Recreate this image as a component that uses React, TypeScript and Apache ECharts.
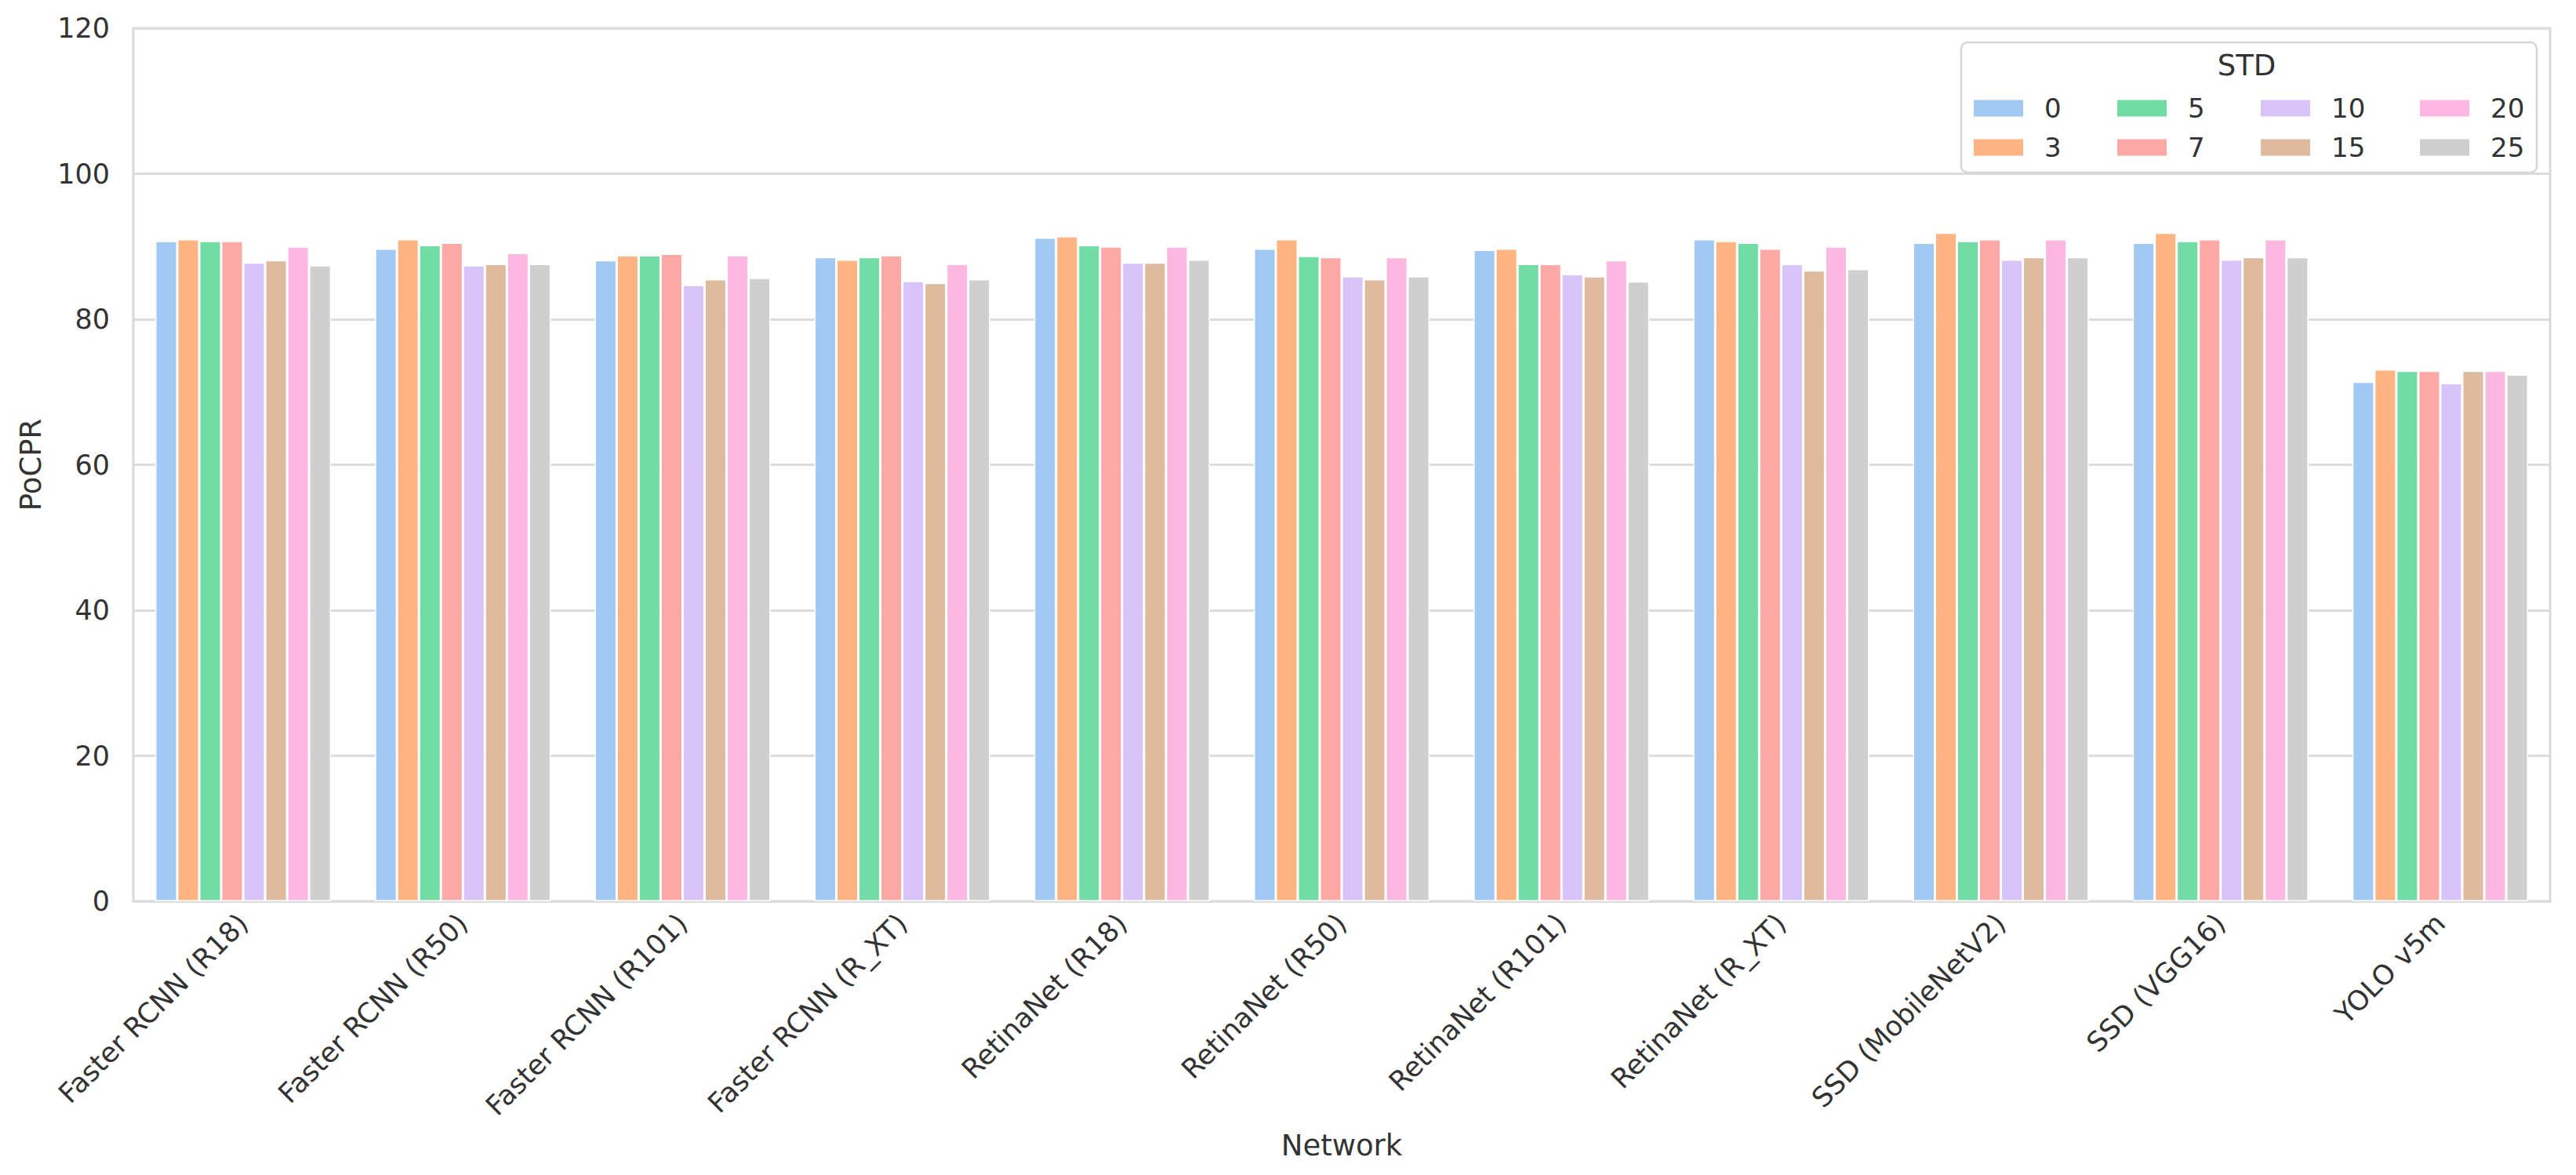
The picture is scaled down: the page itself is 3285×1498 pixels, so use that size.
import React, { useEffect, useRef } from "react";
import * as echarts from "echarts";

const networks = [
  "Faster RCNN (R18)",
  "Faster RCNN (R50)",
  "Faster RCNN (R101)",
  "Faster RCNN (R_XT)",
  "RetinaNet (R18)",
  "RetinaNet (R50)",
  "RetinaNet (R101)",
  "RetinaNet (R_XT)",
  "SSD (MobileNetV2)",
  "SSD (VGG16)",
  "YOLO v5m",
];

const stdLevels = ["0", "3", "5", "7", "10", "15", "20", "25"];

const std0 = [90.75, 89.7, 88.1, 88.55, 91.2, 89.7, 89.55, 91.0, 90.5, 90.5, 71.4];
const std3 = [91.0, 91.0, 88.8, 88.2, 91.4, 91.0, 89.7, 90.75, 91.9, 91.9, 73.1];
const std5 = [90.75, 90.2, 88.8, 88.55, 90.2, 88.7, 87.6, 90.5, 90.75, 90.75, 72.9];
const std7 = [90.75, 90.5, 89.0, 88.8, 90.0, 88.55, 87.6, 89.7, 91.0, 91.0, 72.9];
const std10 = [87.8, 87.4, 84.7, 85.25, 87.8, 85.9, 86.2, 87.6, 88.2, 88.2, 71.2];
const std15 = [88.1, 87.6, 85.5, 85.0, 87.8, 85.5, 85.9, 86.7, 88.55, 88.55, 72.9];
const std20 = [90.0, 89.1, 88.8, 87.6, 90.0, 88.55, 88.1, 90.0, 91.0, 91.0, 72.9];
const std25 = [87.4, 87.6, 85.7, 85.5, 88.2, 85.9, 85.2, 86.9, 88.55, 88.55, 72.4];

const seriesValues = [std0, std3, std5, std7, std10, std15, std20, std25];

const yTicks = { min: 0, max: 120, interval: 20 };

const colors = [
  "#a1c9f4",
  "#ffb482",
  "#72dca6",
  "#ffa9a6",
  "#d8c4f8",
  "#debb9f",
  "#fdb8e1",
  "#cfcfcf",
];

const FONT = "DejaVu Sans";
const TEXT = "#333333";

export default function App() {
  const ref = useRef<HTMLDivElement | null>(null);

  useEffect(() => {
    if (!ref.current) return;
    const chart = echarts.init(ref.current, undefined, { renderer: "svg" });

    const legendCols = [
      { left: 2517, items: [stdLevels[0], stdLevels[1]] },
      { left: 2700, items: [stdLevels[2], stdLevels[3]] },
      { left: 2883, items: [stdLevels[4], stdLevels[5]] },
      { left: 3086, items: [stdLevels[6], stdLevels[7]] },
    ];

    const option: any = {
      animation: false,
      backgroundColor: "#ffffff",
      color: colors,
      textStyle: { fontFamily: FONT },
      grid: {
        left: 170,
        top: 36,
        right: 33,
        bottom: 349,
        show: true,
        borderColor: "#d9d9d9",
        borderWidth: 3,
        backgroundColor: "#ffffff",
      },
      xAxis: {
        type: "category",
        data: networks,
        name: "Network",
        nameLocation: "middle",
        nameGap: 293,
        nameTextStyle: { fontSize: 37, color: TEXT, fontFamily: FONT },
        axisLine: { show: false },
        axisTick: { show: false },
        splitLine: { show: false },
        axisLabel: {
          rotate: 45,
          interval: 0,
          margin: 22,
          fontSize: 35,
          color: TEXT,
          fontFamily: FONT,
        },
      },
      yAxis: {
        type: "value",
        min: yTicks.min,
        max: yTicks.max,
        interval: yTicks.interval,
        name: "PoCPR",
        nameLocation: "middle",
        nameRotate: 90,
        nameGap: 112,
        nameTextStyle: { fontSize: 37, color: TEXT, fontFamily: FONT },
        axisLine: { show: false },
        axisTick: { show: false },
        axisLabel: { fontSize: 35, color: TEXT, margin: 30, fontFamily: FONT },
        splitLine: { show: true, lineStyle: { color: "#dcdcdc", width: 3 } },
      },
      legend: legendCols.map((c) => ({
        orient: "vertical",
        left: c.left,
        top: 121,
        padding: 0,
        itemGap: 16,
        itemWidth: 63,
        itemHeight: 21,
        icon: "rect",
        data: c.items,
        itemStyle: { borderWidth: 0 },
        textStyle: {
          fontSize: 34,
          lineHeight: 34,
          color: TEXT,
          fontFamily: FONT,
          padding: [0, 0, 0, 22],
        },
        z: 6,
      })),
      graphic: [
        {
          type: "rect",
          z: 5,
          shape: { x: 2501, y: 54, width: 734, height: 166, r: 8 },
          style: { fill: "rgba(255,255,255,0.9)", stroke: "#d6d6d6", lineWidth: 2.5 },
        },
        {
          type: "text",
          z: 6,
          x: 2865,
          y: 83,
          style: {
            text: "STD",
            fontSize: 37,
            fontFamily: FONT,
            fill: TEXT,
            textAlign: "center",
            textVerticalAlign: "middle",
          },
        },
      ],
      series: stdLevels.map((lvl, i) => ({
        name: lvl,
        type: "bar",
        data: seriesValues[i],
        barGap: "0%",
        barCategoryGap: "20%",
        itemStyle: { color: colors[i], borderColor: "#ffffff", borderWidth: 1.5 },
      })),
    };

    chart.setOption(option);
    return () => chart.dispose();
  }, []);

  return (
    <div
      ref={ref}
      style={{ position: "absolute", left: 0, top: 0, width: 3285, height: 1498 }}
    />
  );
}
